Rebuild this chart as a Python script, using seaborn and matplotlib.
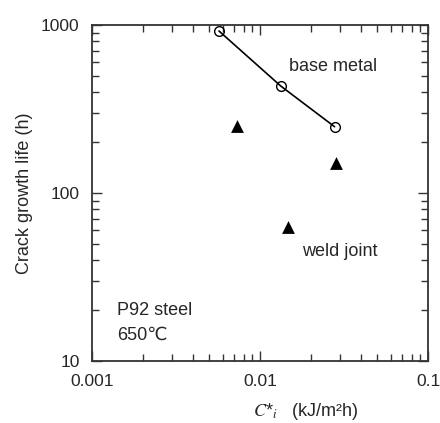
import matplotlib
matplotlib.use("Agg")
import matplotlib.pyplot as plt
import seaborn as sns
import pandas as pd
from matplotlib.ticker import LogLocator, NullFormatter, FixedLocator, FixedFormatter

# Data
base_x = [0.0057, 0.0133, 0.0278]
base_y = [921, 433, 248]
weld_x = [0.00733, 0.0146, 0.0283]
weld_y = [251, 63, 150]
xticks = [0.001, 0.01, 0.1]
xticklabels = ["0.001", "0.01", "0.1"]
yticks = [10, 100, 1000]
yticklabels = ["10", "100", "1000"]

sns.set_style("ticks")
plt.rcParams['font.family'] = ['Liberation Sans', 'DejaVu Sans']
plt.rcParams['mathtext.fontset'] = 'stix'

fig = plt.figure(figsize=(4.4, 4.23), dpi=100)
ax = fig.add_axes([92/440, 1-361/423, 336/440, 336/423])

base = pd.DataFrame({"x": base_x, "y": base_y})
weld = pd.DataFrame({"x": weld_x, "y": weld_y})

sns.lineplot(data=base, x="x", y="y", ax=ax, color="black", linewidth=1.2,
             marker="o", markersize=7, markerfacecolor="none",
             markeredgecolor="black", markeredgewidth=1.0)
sns.scatterplot(data=weld, x="x", y="y", ax=ax, marker="^", s=85,
                color="black", edgecolor="black", linewidth=0)

ax.set_xscale("log")
ax.set_yscale("log")
ax.set_xlim(0.001, 0.1)
ax.set_ylim(10, 1000)

ax.xaxis.set_major_locator(FixedLocator(xticks))
ax.xaxis.set_major_formatter(FixedFormatter(xticklabels))
ax.yaxis.set_major_locator(FixedLocator(yticks))
ax.yaxis.set_major_formatter(FixedFormatter(yticklabels))
ax.xaxis.set_minor_locator(LogLocator(base=10, subs=range(2, 10)))
ax.yaxis.set_minor_locator(LogLocator(base=10, subs=range(2, 10)))
ax.xaxis.set_minor_formatter(NullFormatter())
ax.yaxis.set_minor_formatter(NullFormatter())

ax.tick_params(which="both", direction="in", top=True, right=True,
               color="#333333", width=1.0)
ax.tick_params(which="major", length=7, labelsize=12.5, pad=9)
ax.tick_params(which="minor", length=5)
for s in ax.spines.values():
    s.set_linewidth(1.3)
    s.set_color("#333333")

ax.set_ylabel("Crack growth life (h)", fontsize=13, labelpad=6)
ax.set_xlabel(r"$C$*$_{i}$   (kJ/m²h)", fontsize=13)
ax.xaxis.set_label_coords((306-92)/336, -0.118)

ax.text(0.0272, 570, "base metal", fontsize=13, ha="center", va="center")
ax.text(0.0297, 44.6, "weld joint", fontsize=13, ha="center", va="center")
ax.text(0.00141, 20.1, "P92 steel", fontsize=13, ha="left", va="center")
ax.text(0.00141, 14.3, "650℃", fontsize=13, ha="left", va="center")

fig.savefig("out.png", dpi=100)
